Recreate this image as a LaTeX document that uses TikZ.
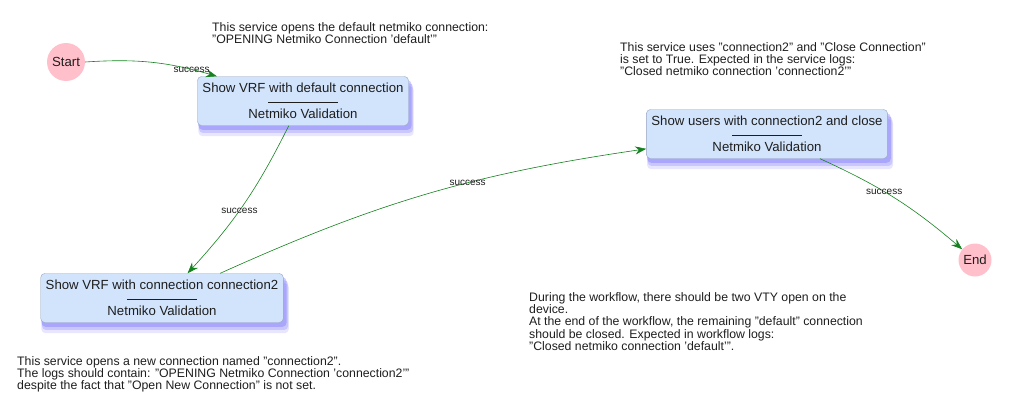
\documentclass[tikz,border=0pt]{standalone}
\usepackage{fontspec}
\setmainfont{Liberation Sans}
\usepackage{xcolor}
\usetikzlibrary{positioning, arrows.meta, shadows}
\definecolor{svcfill}{RGB}{210, 228, 252}
\definecolor{svcline}{RGB}{150, 162, 190}
\definecolor{glowblue}{RGB}{95, 90, 250}
\definecolor{termpink}{RGB}{255, 192, 203}
\definecolor{okgreen}{RGB}{20, 130, 30}
\definecolor{notegray}{RGB}{30, 30, 30}

\begin{document}
\begin{tikzpicture}[x=1pt, y=1pt,
  every node/.style={font=\fontsize{13.2}{13}\selectfont, text=notegray},
  service/.style={draw=svcline, fill=svcfill, rounded corners=4pt, align=center,
    inner xsep=5pt, minimum height=49pt,
    general shadow={fill=glowblue, opacity=0.15, rounded corners=10pt, shadow xshift=3pt, shadow yshift=-10pt, shadow scale=1.02},
    general shadow={fill=glowblue, opacity=0.22, rounded corners=8pt, shadow xshift=3pt, shadow yshift=-7pt, shadow scale=1.015},
    general shadow={fill=glowblue, opacity=0.3, rounded corners=6pt, shadow xshift=2pt, shadow yshift=-4pt, shadow scale=1.01}},
  terminal/.style={circle, fill=termpink, inner sep=0pt},
  note/.style={anchor=north west, align=left, inner sep=0pt, font=\fontsize{12.3}{12.3}\selectfont},
  flow/.style={draw=okgreen, line width=0.6pt, -{Stealth[length=11pt, width=8pt]}},
  ok/.style={font=\fontsize{10}{10}\selectfont, text=notegray}]
\useasboundingbox (0,0) rectangle (1015,-407);

% start and end
\node[terminal, minimum size=38pt] (start) at (66,-62) {Start};
\node[terminal, minimum size=33pt] (end) at (975,-260) {End};

% services
\node[service] (vrfdef) at (303,-101) {Show VRF with default connection\\ \rule[0.25em]{70pt}{0.6pt}\\ Netmiko Validation};
\node[service] (vrfcon) at (162,-298) {Show VRF with connection connection2\\ \rule[0.25em]{70pt}{0.6pt}\\ Netmiko Validation};
\node[service] (users) at (767,-134) {Show users with connection2 and close\\ \rule[0.25em]{70pt}{0.6pt}\\ Netmiko Validation};

% notes
\node[note] (notedef) at (212,-22) {This service opens the default netmiko connection:\\ "OPENING Netmiko Connection 'default'"};
\node[note] (notecon) at (17,-356) {This service opens a new connection named "connection2".\\ The logs should contain: "OPENING Netmiko Connection 'connection2'"\\ despite the fact that "Open New Connection" is not set.};
\node[note] (noteusers) at (620,-42) {This service uses "connection2" and "Close Connection"\\ is set to True. Expected in the service logs:\\ "Closed netmiko connection 'connection2'"};
\node[note] (notewf) at (529,-292) {During the workflow, there should be two VTY open on the\\ device.\\ At the end of the workflow, the remaining "default" connection\\ should be closed. Expected in workflow logs:\\ "Closed netmiko connection 'default'".};

% edges
\draw[flow] (start.0) to[bend left=10] node[ok, pos=0.82] {success} (vrfdef.164);
\draw[flow] (vrfdef.240) to[bend left=8] node[ok, pos=0.55] {success} (vrfcon.44);
\draw[flow] (vrfcon.23) to[bend left=8] node[ok, pos=0.6] {success} (users.187);
\draw[flow] (users.335) to[bend left=8] node[ok, pos=0.42] {success} (end.140);
\end{tikzpicture}
\end{document}
